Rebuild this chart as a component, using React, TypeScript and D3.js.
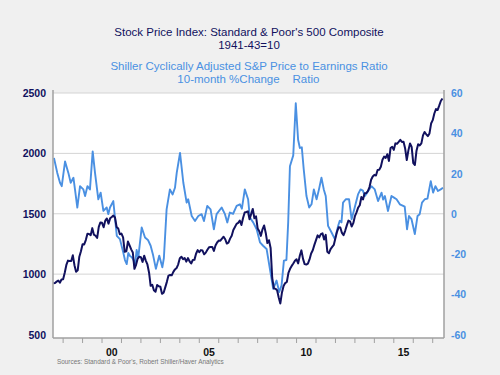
import React from 'react';
import * as d3 from 'd3';

// S&P 500 monthly average, Jul 1997 .. Jul 2017
const spxStartYear = 1997;
const spxStartMonth = 7;
const spx: number[] = [
  925, 927, 938, 947, 929, 955,
  957, 1012, 1076, 1112, 1109, 1108, 1156, 1074, 1020, 1032, 1144, 1190,
  1248, 1246, 1282, 1334, 1332, 1322, 1381, 1327, 1318, 1300, 1391, 1428,
  1425, 1388, 1443, 1461, 1418, 1462, 1473, 1485, 1469, 1390, 1378, 1330,
  1336, 1305, 1185, 1189, 1270, 1238, 1205, 1179, 1044, 1077, 1129, 1144,
  1140, 1101, 1153, 1112, 1080, 1014, 903, 912, 867, 854, 910, 899,
  895, 837, 846, 890, 936, 988, 993, 990, 1019, 1039, 1050, 1081,
  1132, 1144, 1124, 1133, 1103, 1133, 1106, 1088, 1117, 1118, 1169, 1199,
  1181, 1199, 1195, 1164, 1178, 1202, 1222, 1224, 1225, 1192, 1237, 1262,
  1278, 1277, 1294, 1310, 1289, 1253, 1261, 1294, 1318, 1366, 1391, 1416,
  1424, 1444, 1407, 1464, 1511, 1515, 1520, 1455, 1497, 1540, 1463, 1479,
  1378, 1355, 1317, 1371, 1403, 1341, 1257, 1281, 1217, 968, 883, 878,
  866, 806, 757, 848, 902, 926, 935, 1010, 1044, 1068, 1088, 1110,
  1123, 1089, 1152, 1197, 1126, 1083, 1079, 1087, 1122, 1171, 1198, 1242,
  1282, 1321, 1304, 1331, 1338, 1287, 1325, 1185, 1173, 1207, 1226, 1243,
  1300, 1352, 1389, 1386, 1341, 1323, 1359, 1404, 1443, 1437, 1394, 1422,
  1480, 1512, 1551, 1570, 1639, 1619, 1669, 1671, 1688, 1721, 1781, 1808,
  1822, 1817, 1863, 1864, 1889, 1947, 1973, 1962, 1993, 1937, 2045, 2055,
  2029, 2083, 2080, 2095, 2112, 2095, 2096, 2040, 1945, 2025, 2082, 2054,
  1919, 1904, 2022, 2075, 2066, 2083, 2149, 2177, 2158, 2143, 2165, 2247,
  2275, 2330, 2367, 2359, 2395, 2434, 2454,
];

// Shiller CAPE, 10-month % change: [decimal year, value]
const capeChange: [number, number][] = [
  [1997.53, 27.7], [1997.70, 20.3], [1997.84, 15.4], [1997.93, 13.7], [1998.10, 26],
  [1998.27, 20.3], [1998.39, 15.4], [1998.53, 17.9], [1998.61, 12.1], [1998.73, 3.1],
  [1998.87, 13.7], [1999.04, 12.1], [1999.13, 8.8], [1999.25, 13.7], [1999.38, 12.1],
  [1999.52, 31], [1999.64, 20.3], [1999.81, 7.2], [1999.93, 10.5], [2000.07, 1.4],
  [2000.24, 3.1], [2000.32, -0.2], [2000.41, 3.1], [2000.58, 6.3], [2000.76, -11],
  [2000.92, -12.6], [2001.09, -19.2], [2001.18, -23], [2001.27, -25], [2001.35, -19.5],
  [2001.44, -21], [2001.53, -21.6], [2001.62, -23], [2001.69, -26], [2001.78, -18],
  [2001.86, -22], [2002.04, -6.8], [2002.21, -11.8], [2002.36, -13], [2002.50, -15.9],
  [2002.63, -20.8], [2002.77, -27.4], [2002.94, -20.8], [2003.10, -26.6], [2003.18, -22],
  [2003.32, 2.2], [2003.49, 12.1], [2003.63, 9.6], [2003.75, 12.9], [2003.84, 20.3],
  [2004.01, 30.2], [2004.18, 15.4], [2004.35, 5.5], [2004.43, 7.2], [2004.61, -1.1],
  [2004.78, -3.6], [2004.95, -1.1], [2005.12, -0.2], [2005.24, -3.6], [2005.41, 3.9],
  [2005.58, 2.2], [2005.75, -7.7], [2005.89, -0.2], [2006.15, 3.1], [2006.32, -0.2],
  [2006.44, -4.3], [2006.57, 0.6], [2006.74, 0], [2006.92, 3.9], [2007.09, 4.7],
  [2007.19, 2.5], [2007.34, 12.1], [2007.51, 7.2], [2007.60, -1.9], [2007.77, -4.3],
  [2007.95, -7.7], [2008.12, -14.2], [2008.28, -15.9], [2008.46, -17.5], [2008.63, -27.4],
  [2008.80, -37.3], [2008.97, -33.2], [2009.11, -38.9], [2009.23, -35.6], [2009.35, -23.3],
  [2009.48, -23], [2009.57, -4.3], [2009.66, 23.6], [2009.83, 29], [2009.96, 54.9],
  [2010.08, 36.8], [2010.17, 32.7], [2010.27, 33], [2010.37, 22], [2010.51, 8.8],
  [2010.65, 3.1], [2010.77, 4.7], [2010.89, 12.1], [2011.03, 7.2], [2011.15, 12],
  [2011.28, 17.9], [2011.40, 12.1], [2011.50, 8.8], [2011.62, -6], [2011.80, -9.3],
  [2011.97, -12.6], [2012.14, -6], [2012.22, -3.5], [2012.31, -4.3], [2012.39, 5.5],
  [2012.53, 7.2], [2012.70, 7.2], [2012.83, -2.7], [2012.99, 3.1], [2013.16, 9.6],
  [2013.29, 12.1], [2013.41, 11.5], [2013.51, 8.8], [2013.60, 10], [2013.68, 11.3],
  [2013.85, 13.7], [2014.02, 12.1], [2014.19, 6.3], [2014.37, 10.5], [2014.45, 7],
  [2014.54, 8.8], [2014.70, 1.4], [2014.88, 8.8], [2015.01, 8], [2015.14, 7.2],
  [2015.31, 4.7], [2015.48, 3.9], [2015.56, 3.5], [2015.68, -7.7], [2015.78, -1.1],
  [2015.91, -2.7], [2016.08, -10.1], [2016.22, -1.1], [2016.33, -0.2], [2016.45, 5.5],
  [2016.59, 7.2], [2016.73, 7.5], [2016.90, 16.2], [2017.02, 10.5], [2017.14, 13.7],
  [2017.27, 11.3], [2017.41, 12.1], [2017.53, 12.9],
];

const leftTicks = [500, 1000, 1500, 2000, 2500];
const rightTicks = [-60, -40, -20, 0, 20, 40, 60];
const gridValues = [1000, 1500, 2000];
const yearTickMarks = d3.range(1998, 2018);
const yearLabels: [number, string][] = [[2000, '00'], [2005, '05'], [2010, '10'], [2015, '15']];

const titleLines = ["Stock Price Index: Standard & Poor's 500 Composite", '1941-43=10'];
const subtitle = 'Shiller Cyclically Adjusted S&P Price to Earnings Ratio';
const legendLeft = '10-month %Change';
const legendRight = 'Ratio';
const sourceText = "Sources:  Standard & Poor's, Robert Shiller/Haver Analytics";

const NAVY = '#11115e';
const BLUE = '#4a90e2';
const FONT = 'Arial, "Liberation Sans", Helvetica, sans-serif';

export default function App() {
  const W = 500, H = 375;
  const left = 53, right = 444, top = 93, bottom = 338;
  const x = d3.scaleLinear().domain([1997.48, 2017.58]).range([left, right]);
  const yL = d3.scaleLinear().domain([500, 2500]).range([334.5, top]);
  const yR = d3.scaleLinear().domain([-60, 60]).range([334.5, top]);

  const spxPts: [number, number][] = spx.map((v, i) => {
    const m = spxStartMonth - 1 + i;
    return [spxStartYear + m / 12, v];
  });

  const darkLine = d3.line<[number, number]>().x(d => x(d[0])).y(d => yL(d[1]));
  const lightLine = d3.line<[number, number]>().x(d => x(d[0])).y(d => yR(d[1]));

  return (
    <svg width={W} height={H} style={{ position: 'absolute', left: 0, top: 0 }} fontFamily={FONT}>
      <rect x={0} y={0} width={W} height={H} fill="#f0f0f0" />
      <text x={249} y={35.5} textAnchor="middle" fontSize={11.5} fill={NAVY}>{titleLines[0]}</text>
      <text x={249} y={48.5} textAnchor="middle" fontSize={11.5} fill={NAVY}>{titleLines[1]}</text>
      <text x={249} y={70} textAnchor="middle" fontSize={11.5} fill={BLUE}>{subtitle}</text>
      <text x={228.5} y={83} textAnchor="middle" fontSize={11.5} fill={BLUE}>{legendLeft}</text>
      <text x={306} y={83} textAnchor="middle" fontSize={11.5} fill={BLUE}>{legendRight}</text>

      <rect x={left} y={top} width={right - left} height={bottom - top} fill="#ffffff" />
      <line x1={left} x2={right} y1={top} y2={top} stroke="#d4d4d4" strokeWidth={1} />
      {gridValues.map(v => (
        <line key={v} x1={left} x2={right} y1={yL(v)} y2={yL(v)} stroke="#d4d4d4" strokeWidth={1} />
      ))}

      <clipPath id="plotclip"><rect x={left} y={top} width={right - left} height={bottom - top} /></clipPath>
      <g clipPath="url(#plotclip)">
        <path d={lightLine(capeChange) || ''} fill="none" stroke={BLUE} strokeWidth={1.9} strokeLinejoin="round" />
        <path d={darkLine(spxPts) || ''} fill="none" stroke={NAVY} strokeWidth={2} strokeLinejoin="round" />
      </g>

      <line x1={left} x2={left} y1={top - 3} y2={bottom} stroke="#a0a0a0" strokeWidth={1.5} />
      <line x1={right} x2={right} y1={top - 3} y2={bottom} stroke="#a0a0a0" strokeWidth={1.5} />
      <line x1={left} x2={right} y1={bottom} y2={bottom} stroke="#a0a0a0" strokeWidth={1.5} />
      {yearTickMarks.map(yr => (
        <line key={yr} x1={x(yr)} x2={x(yr)} y1={bottom} y2={bottom + 5} stroke="#a0a0a0" strokeWidth={1} />
      ))}

      {leftTicks.map(v => (
        <text key={v} x={46} y={yL(v) + 4} textAnchor="end" fontSize={10.5} fontWeight="bold" fill={NAVY}>{v}</text>
      ))}
      {rightTicks.map(v => (
        <text key={v} x={451} y={yR(v) + 4} textAnchor="start" fontSize={10.5} fontWeight="bold" fill={BLUE}>{v}</text>
      ))}
      {yearLabels.map(([yr, lab]) => (
        <text key={yr} x={x(yr + 0.5)} y={355.5} textAnchor="middle" fontSize={10.5} fontWeight="bold" fill="#111111">{lab}</text>
      ))}
      <text x={57} y={363.5} fontSize={6.4} fill="#777777">{sourceText}</text>
    </svg>
  );
}
